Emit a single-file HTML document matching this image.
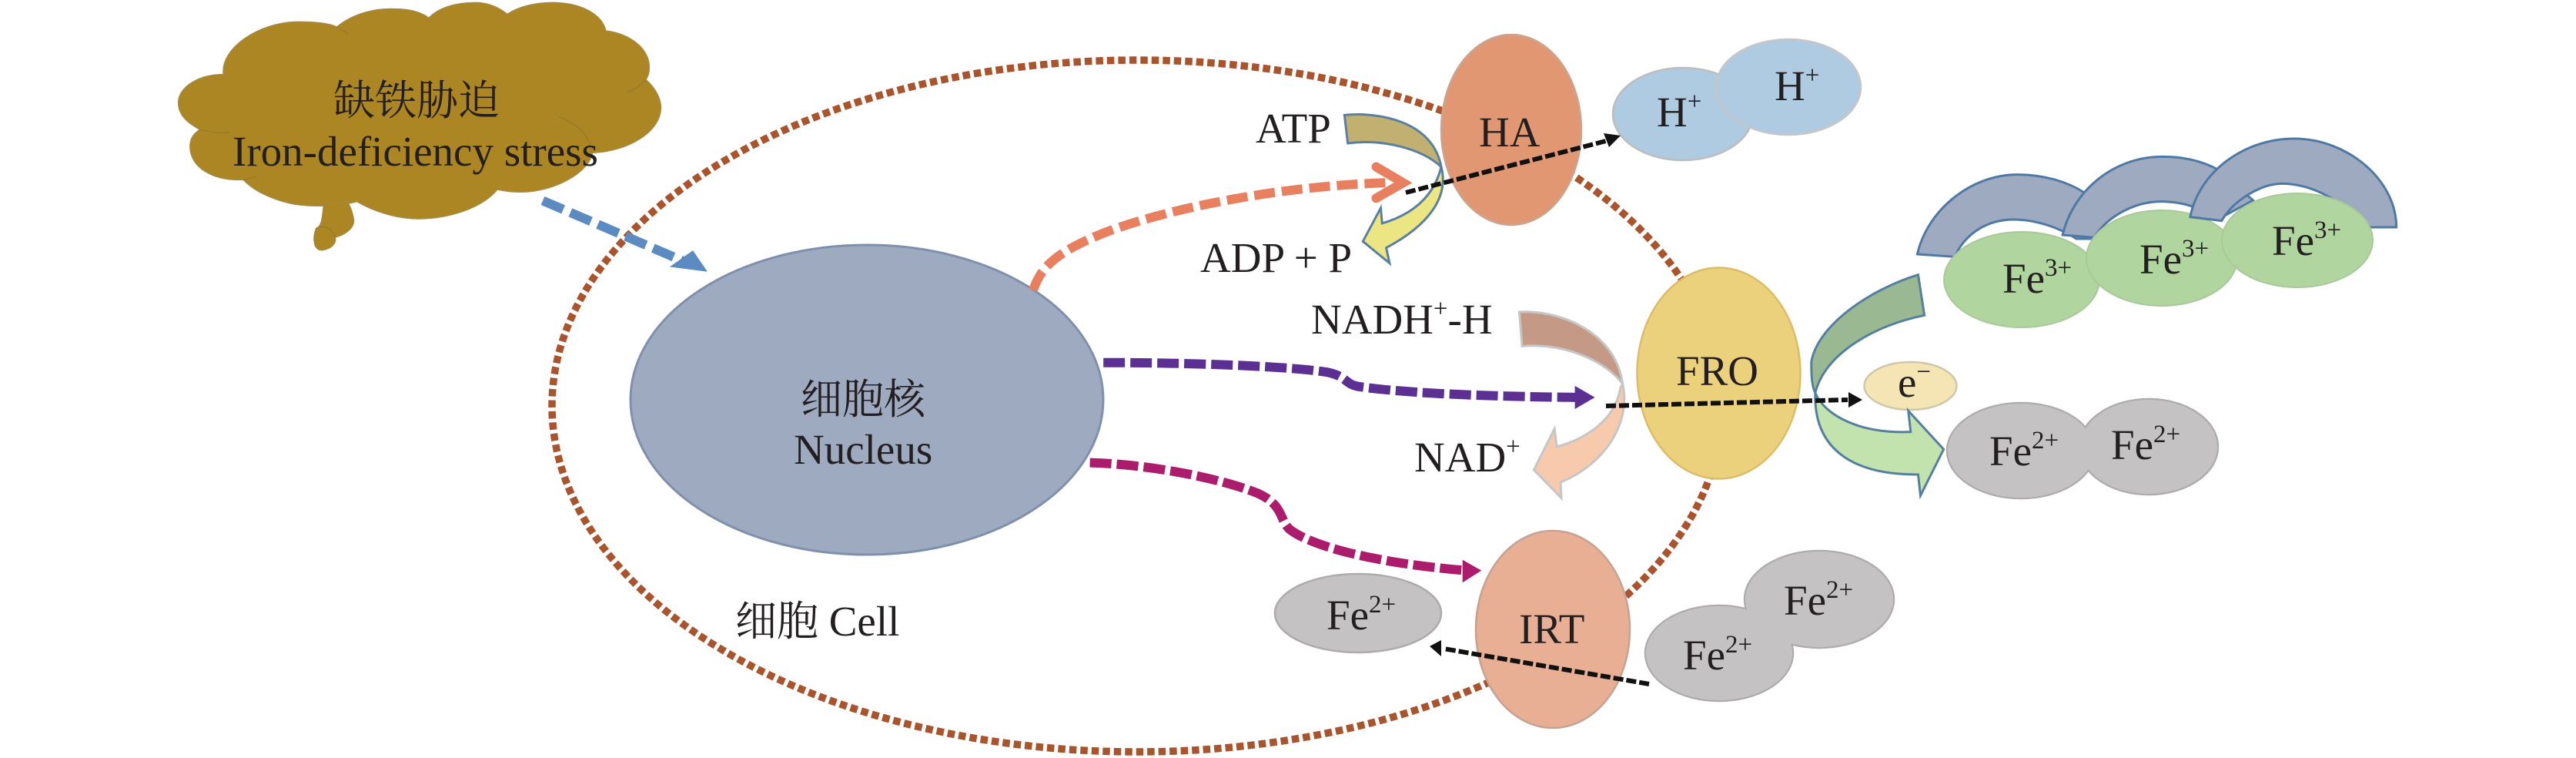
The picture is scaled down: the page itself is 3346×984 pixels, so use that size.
<!DOCTYPE html>
<html>
<head>
<meta charset="utf-8">
<style>
html,body{margin:0;padding:0;background:#fff;width:3346px;height:984px;overflow:hidden}
svg{display:block}
svg *{vector-effect:non-scaling-stroke}
text{font-family:"Liberation Serif","Noto Serif CJK SC",serif;font-size:55px;fill:#231f20}
.cn{font-family:"Liberation Serif","Noto Serif CJK SC",serif;font-size:54px}
.d{fill:none;stroke-linecap:butt}
</style>
</head>
<body>
<svg xmlns="http://www.w3.org/2000/svg" width="3346" height="984" viewBox="0 0 3346 984">
<rect width="3346" height="984" fill="#fff"/>

<!-- cloud -->
<g transform="translate(210,0) scale(.4337,.3333)">
<path fill="#ab8623" stroke="#a58a45" stroke-width="1.5" d="M185 290C175 190 290 85 410 85C460 85 500 90 525 105C570 55 640 30 700 35C745 35 780 50 800 70C830 30 880 10 940 10C980 10 1010 30 1035 55C1070 25 1120 10 1170 10C1260 10 1320 60 1330 120C1400 130 1465 190 1460 270C1460 285 1455 300 1450 310C1480 345 1495 385 1495 420C1495 510 1400 590 1290 595C1280 670 1180 745 1080 748C1050 748 1030 745 1005 738C960 810 860 852 770 852C700 852 630 820 585 785C540 800 480 805 430 800C360 795 280 750 245 700C150 705 85 650 85 570C85 540 95 520 115 505C80 480 50 450 50 400C50 340 110 290 185 290Z"/>
<path fill="#ab8623" stroke="#a58a45" stroke-width="1" d="M485 795C480 850 480 880 462 890C450 930 455 975 480 975C510 970 525 945 520 925C560 910 580 880 575 850C570 820 565 800 555 785Z"/>
<g fill="none" stroke="#9a7b2c" stroke-width="1.5">
<path d="M1190 455C1240 480 1280 520 1290 595"/>
<path d="M1395 360C1420 345 1440 330 1450 310"/>
<path d="M525 105C540 115 550 125 560 135"/>
<path d="M245 700C260 697 275 692 285 685"/>
<path d="M115 505C140 515 175 518 205 515"/>
<path d="M462 890C475 880 505 875 520 925"/>
</g>
</g>

<!-- cell boundary -->
<ellipse cx="1477" cy="527" rx="760" ry="449" fill="none" stroke="#a9542c" stroke-width="9.5" stroke-dasharray="9.5 5"/>

<!-- nucleus and proteins -->
<ellipse cx="1126" cy="519" rx="307" ry="201" fill="#9eaabf" stroke="#7f90ad" stroke-width="3"/>
<ellipse cx="1963" cy="168.5" rx="91" ry="123.5" fill="#e29773" stroke="#c9a590" stroke-width="2.5"/>
<ellipse cx="2232.5" cy="484.5" rx="106" ry="137" fill="#ecd17d" stroke="#dcbc68" stroke-width="2.5"/>
<ellipse cx="2017" cy="817" rx="100" ry="128" fill="#e9af94" stroke="#c4a294" stroke-width="2.5"/>

<!-- H+ -->
<ellipse cx="2186" cy="148" rx="91" ry="60" fill="#aecbe1" stroke="#bdbdbd" stroke-width="2.5"/>
<ellipse cx="2323" cy="113" rx="94" ry="62" fill="#aecbe1" stroke="#c6c6c6" stroke-width="2.5"/>

<!-- Fe2+ ovals -->
<g fill="#c4c2c3" stroke="#adabac" stroke-width="2.5">
<ellipse cx="1764" cy="796" rx="108" ry="51"/>
<ellipse cx="2363" cy="778" rx="97" ry="63"/>
<ellipse cx="2233" cy="848" rx="96" ry="62"/>
<ellipse cx="2791" cy="580" rx="90" ry="62"/>
<ellipse cx="2625" cy="585" rx="96" ry="62"/>
</g>
<g fill="#c4c2c3">
<ellipse cx="2363" cy="778" rx="96" ry="62"/>
<ellipse cx="2233" cy="848" rx="95" ry="61"/>
<ellipse cx="2791" cy="580" rx="89" ry="61"/>
<ellipse cx="2625" cy="585" rx="95" ry="61"/>
</g>
<ellipse cx="2481.5" cy="501" rx="60" ry="31" fill="#f5e5b5" stroke="#cfc8a8" stroke-width="2.5"/>

<!-- Fe3+ with arcs -->
<g transform="translate(2340,170) scale(.51,.3333)" fill="#9eaabf" stroke="#4f79a5" stroke-width="3">
<path d="M295 480C320 310 430 170 550 170C620 170 680 200 720 240L740 420L700 420C660 380 600 345 540 345C480 345 420 390 390 490Z"/>
</g>
<ellipse cx="2626" cy="363" rx="101" ry="62" fill="#b0d59e" stroke="#aac99a" stroke-width="2"/>
<g transform="translate(2340,170) scale(.51,.3333)" fill="#9eaabf" stroke="#4f79a5" stroke-width="3">
<path d="M665 405C690 240 790 100 920 100C985 100 1030 125 1060 150L1150 270L1060 345C1030 310 980 275 915 275C850 275 780 330 745 415Z"/>
</g>
<ellipse cx="2808" cy="335" rx="98" ry="62" fill="#b0d59e" stroke="#aac99a" stroke-width="2"/>
<g transform="translate(2340,170) scale(.51,.3333)" fill="#9eaabf" stroke="#4f79a5" stroke-width="3">
<path d="M990 335C1010 170 1120 30 1255 30C1390 30 1515 190 1515 375L1430 375C1390 280 1300 205 1225 205C1170 205 1100 270 1070 350Z"/>
</g>
<ellipse cx="2984" cy="312" rx="98" ry="61" fill="#b0d59e" stroke="#aac99a" stroke-width="2"/>

<!-- green reduction arrow -->
<g transform="translate(2340,170) scale(.51,.3333)" stroke="#557f9e" stroke-width="3">
<path d="M35 1020C60 1110 150 1180 278 1172L272 1090L362 1240L303 1420L297 1338C150 1340 30 1260 35 1020Z" fill="#c2e3ae"/>
<path d="M297 560L313 718C180 760 60 870 35 1020C25 990 25 940 25 900C40 760 170 620 297 560Z" fill="#9ab892"/>
</g>

<!-- ATP arrow -->
<g transform="translate(1540,100) scale(.357,.3333)" stroke="#5a80a0" stroke-width="3">
<path d="M930 350C960 470 880 580 730 665L742 725L645 640L710 510L715 570C810 540 900 480 930 350Z" fill="#ebe583"/>
<path d="M578 148C700 135 900 170 930 350C860 280 720 240 590 258Z" fill="#c2b070"/>
</g>
<!-- NADH arrow -->
<g transform="translate(1680,370) scale(.357,.3333)" stroke="#c6c6c6" stroke-width="3">
<path d="M1198 385C1230 540 1130 700 972 768L975 830L875 720L950 560L958 630C1060 600 1170 530 1190 400Z" fill="#f7c9ad"/>
<path d="M822 105C950 95 1170 170 1198 385C1130 290 980 225 832 238Z" fill="#c49a86"/>
</g>

<!-- coloured dashed arrows -->
<g transform="scale(.7015,.6276)">
<path class="d" d="M1005 415L1265 540" stroke="#5b8bc0" stroke-width="12" stroke-dasharray="29 10"/>
<polygon points="1310,562 1283,518 1240,552" fill="#5b8bc0"/>
</g>
<g transform="translate(1100,0) scale(.7015,.6276)">
<path class="d" d="M345 600C360 550 390 520 480 480C600 430 800 385 1000 378" stroke="#e8805f" stroke-width="12" stroke-dasharray="27 9"/>
<path d="M980 345L1030 378L980 410" fill="none" stroke="#e8805f" stroke-width="12" stroke-linecap="round"/>
<path class="d" d="M475 750C600 750 800 755 890 770C930 780 920 795 950 800C1050 815 1200 820 1350 822" stroke="#5c3092" stroke-width="12" stroke-dasharray="28 7"/>
<polygon points="1385,822 1348,798 1348,846" fill="#5c3092"/>
<path class="d" d="M450 957C550 960 680 985 760 1020C810 1045 800 1075 820 1095C860 1130 980 1165 1145 1180" stroke="#ac1c6c" stroke-width="12" stroke-dasharray="28 7"/>
<polygon points="1175,1180 1140,1158 1140,1205" fill="#ac1c6c"/>
</g>

<!-- black dashed arrows -->
<g class="d" stroke="#111" stroke-width="6" stroke-dasharray="13 4" fill="none">
<path d="M1826 250L2090 182"/>
<path d="M2086 527L2400 519"/>
<path d="M2142 888L1875 842"/>
</g>
<polygon points="2105,176 2083,173 2090,191" fill="#111"/>
<polygon points="2419,519 2401,509 2401,529" fill="#111"/>
<polygon points="1857,839 1872,831 1872,852" fill="#111"/>

<!-- labels -->
<text class="cn" x="433" y="149">缺铁胁迫</text>
<text x="302" y="215">Iron-deficiency stress</text>
<text class="cn" x="1040" y="537">细胞核</text>
<text x="1031" y="602">Nucleus</text>
<text x="955" y="825"><tspan class="cn">细胞</tspan> Cell</text>
<text x="1631" y="185">ATP</text>
<text x="1559" y="353">ADP + P</text>
<text x="1703" y="433">NADH<tspan font-size="33" dy="-22">+</tspan><tspan dy="22">-H</tspan></text>
<text x="1837" y="612">NAD<tspan font-size="33" dy="-22">+</tspan></text>
<text x="1921" y="190">HA</text>
<text x="2177" y="500">FRO</text>
<text x="1973" y="835">IRT</text>
<text x="2152" y="164">H<tspan font-size="33" dy="-22">+</tspan></text>
<text x="2305" y="130">H<tspan font-size="33" dy="-22">+</tspan></text>
<text x="2601" y="380">Fe<tspan font-size="33" dy="-22">3+</tspan></text>
<text x="2779" y="355">Fe<tspan font-size="33" dy="-22">3+</tspan></text>
<text x="2951" y="331">Fe<tspan font-size="33" dy="-22">3+</tspan></text>
<text x="2584" y="604">Fe<tspan font-size="33" dy="-22">2+</tspan></text>
<text x="2742" y="596">Fe<tspan font-size="33" dy="-22">2+</tspan></text>
<text x="2317" y="798">Fe<tspan font-size="33" dy="-22">2+</tspan></text>
<text x="2186" y="869">Fe<tspan font-size="33" dy="-22">2+</tspan></text>
<text x="1723" y="817">Fe<tspan font-size="33" dy="-22">2+</tspan></text>
<text x="2465" y="515">e<tspan font-size="33" dy="-22">−</tspan></text>
</svg>
</body>
</html>
